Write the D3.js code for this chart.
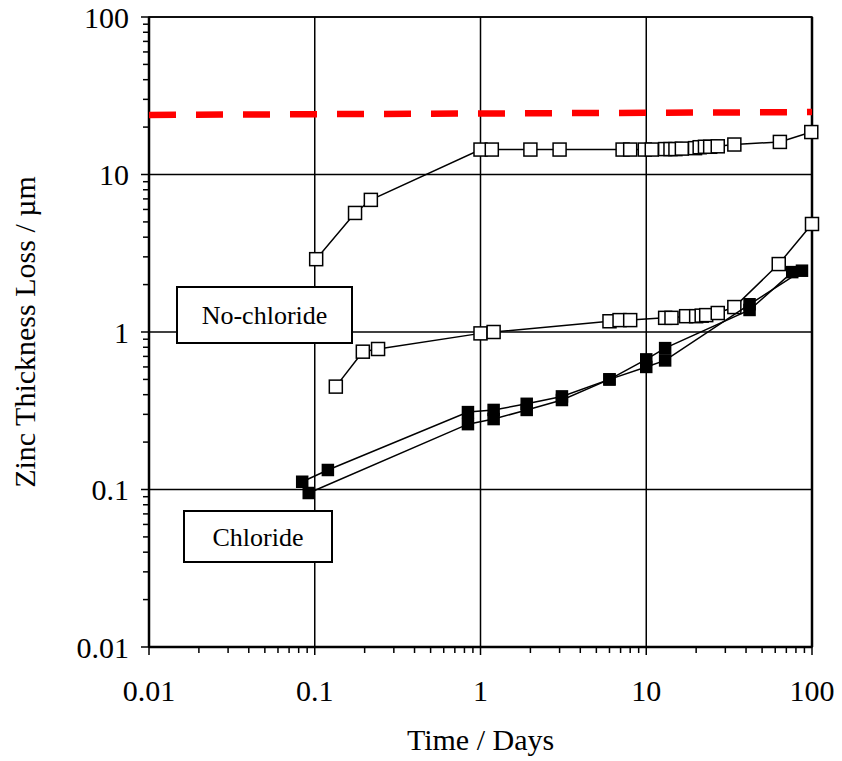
<!DOCTYPE html>
<html>
<head>
<meta charset="utf-8">
<script src="https://cdn.jsdelivr.net/npm/d3@7"></script>
<style>
  body { margin: 0; background: #fff; }
  text { font-family: "Liberation Serif", "Times New Roman", serif; fill: #000; }
</style>
</head>
<body>
<div id="chart"></div>
<script>
// data (days, µm)
var upperDays = [0.102, 0.175, 0.218, 1.0, 1.17, 2.0, 3.0, 7.2, 8.0, 9.8, 10.8, 13, 14, 15, 16.4, 19.7, 21, 22.6, 24.3, 27, 34, 64, 99];
var upperLoss = [2.9, 5.7, 6.9, 14.4, 14.4, 14.4, 14.4, 14.4, 14.4, 14.4, 14.4, 14.5, 14.5, 14.5, 14.6, 14.7, 14.9, 15.0, 15.0, 15.1, 15.5, 16.1, 18.6];

var noClDays = [0.134, 0.195, 0.241, 1.0, 1.2, 6.0, 6.9, 8.0, 13, 14.2, 17.4, 20, 21.6, 23, 27, 34, 63, 100];
var noClLoss = [0.45, 0.75, 0.78, 0.98, 1.0, 1.17, 1.19, 1.19, 1.23, 1.23, 1.26, 1.26, 1.27, 1.28, 1.32, 1.44, 2.7, 4.85];

var clADays = [0.084, 0.12, 0.84, 1.2, 1.9, 3.1, 6.0, 10, 13, 42, 76];
var clALoss = [0.112, 0.133, 0.31, 0.32, 0.35, 0.39, 0.5, 0.67, 0.79, 1.38, 2.4];
var clBDays = [0.092, 0.84, 1.2, 1.9, 3.1, 6.0, 10, 13, 42, 87];
var clBLoss = [0.095, 0.26, 0.28, 0.32, 0.37, 0.5, 0.6, 0.66, 1.5, 2.45];

var limitDays = [0.01, 100];
var limitLoss = [23.9, 24.9];

var xTicks = [0.01, 0.1, 1, 10, 100];
var yTicks = [0.01, 0.1, 1, 10, 100];
var xTickLabels = ['0.01', '0.1', '1', '10', '100'];
var yTickLabels = ['0.01', '0.1', '1', '10', '100'];

var W = 842, H = 761;
var margin = { left: 149, top: 17, right: 30, bottom: 114 };
var pw = W - margin.left - margin.right, ph = H - margin.top - margin.bottom;

var svg = d3.select('#chart').append('svg')
  .attr('width', W).attr('height', H);
var g = svg.append('g').attr('transform', 'translate(' + margin.left + ',' + margin.top + ')');

var x = d3.scaleLog().domain([0.01, 100]).range([0, pw]);
var y = d3.scaleLog().domain([0.01, 100]).range([ph, 0]);

function zip(a, b) { return a.map(function(v, i) { return [v, b[i]]; }); }

// minor ticks (outside)
var minors = [];
for (var dec = 0.01; dec < 100; dec *= 10) {
  for (var k = 2; k <= 9; k++) minors.push(dec * k);
}
g.selectAll('.xminor').data(minors).enter().append('line')
  .attr('x1', function(d) { return x(d); }).attr('x2', function(d) { return x(d); })
  .attr('y1', ph).attr('y2', ph + 6)
  .attr('stroke', '#000').attr('stroke-width', 1.5);
g.selectAll('.yminor').data(minors).enter().append('line')
  .attr('y1', function(d) { return y(d); }).attr('y2', function(d) { return y(d); })
  .attr('x1', 0).attr('x2', -6)
  .attr('stroke', '#000').attr('stroke-width', 1.5);

// major ticks + grid
g.selectAll('.xgrid').data(xTicks).enter().append('line')
  .attr('x1', function(d) { return x(d); }).attr('x2', function(d) { return x(d); })
  .attr('y1', 0).attr('y2', ph + 8)
  .attr('stroke', '#000').attr('stroke-width', 1.5);
g.selectAll('.ygrid').data(yTicks).enter().append('line')
  .attr('y1', function(d) { return y(d); }).attr('y2', function(d) { return y(d); })
  .attr('x1', -8).attr('x2', pw)
  .attr('stroke', '#000').attr('stroke-width', 1.5);

// frame
g.append('rect').attr('width', pw).attr('height', ph)
  .attr('fill', 'none').attr('stroke', '#000').attr('stroke-width', 1.5);
g.append('line').attr('x1', 0).attr('x2', 0).attr('y1', 0).attr('y2', ph)
  .attr('stroke', '#000').attr('stroke-width', 2.5);
g.append('line').attr('x1', 0).attr('x2', pw).attr('y1', ph).attr('y2', ph)
  .attr('stroke', '#000').attr('stroke-width', 2.5);
g.append('line').attr('x1', pw).attr('x2', pw).attr('y1', 0).attr('y2', ph)
  .attr('stroke', '#000').attr('stroke-width', 2.5);

// tick labels
g.selectAll('.xlab').data(xTicks).enter().append('text')
  .attr('x', function(d) { return x(d); }).attr('y', ph + 54)
  .attr('text-anchor', 'middle').style('font-size', '30px')
  .text(function(d, i) { return xTickLabels[i]; });
g.selectAll('.ylab').data(yTicks).enter().append('text')
  .attr('x', -20).attr('y', function(d) { return y(d); }).attr('dy', '0.35em')
  .attr('text-anchor', 'end').style('font-size', '30px')
  .text(function(d, i) { return yTickLabels[i]; });

// axis titles
svg.append('text').attr('x', margin.left + pw / 2).attr('y', 750)
  .attr('text-anchor', 'middle').style('font-size', '30px').text('Time / Days');
svg.append('text').attr('transform', 'translate(35,' + (margin.top + ph / 2) + ') rotate(-90)')
  .attr('text-anchor', 'middle').style('font-size', '30px').text('Zinc Thickness Loss / µm');

// limit line
var line = d3.line().x(function(d) { return x(d[0]); }).y(function(d) { return y(d[1]); });
g.append('path').datum(zip(limitDays, limitLoss)).attr('d', line)
  .attr('fill', 'none').attr('stroke', '#ff0000').attr('stroke-width', 6.5)
  .attr('stroke-dasharray', '27,20');

// series
function drawSeries(days, loss, filled) {
  var pts = zip(days, loss);
  g.append('path').datum(pts).attr('d', line)
    .attr('fill', 'none').attr('stroke', '#000').attr('stroke-width', 1.5);
  var s = filled ? 11 : 13;
  g.selectAll(null).data(pts).enter().append('rect')
    .attr('x', function(d) { return x(d[0]) - s / 2; })
    .attr('y', function(d) { return y(d[1]) - s / 2; })
    .attr('width', s).attr('height', s)
    .attr('fill', filled ? '#000' : '#fff')
    .attr('stroke', '#000').attr('stroke-width', 1.5);
}
drawSeries(upperDays, upperLoss, false);
drawSeries(noClDays, noClLoss, false);
drawSeries(clADays, clALoss, true);
drawSeries(clBDays, clBLoss, true);

// label boxes
function labelBox(bx, by, bw, bh, txt) {
  svg.append('rect').attr('x', bx).attr('y', by).attr('width', bw).attr('height', bh)
    .attr('fill', '#fff').attr('stroke', '#000').attr('stroke-width', 2);
  svg.append('text').attr('x', bx + bw / 2).attr('y', by + bh / 2).attr('dy', '0.35em')
    .attr('text-anchor', 'middle').style('font-size', '26px').text(txt);
}
labelBox(177, 287, 175, 56, 'No-chloride');
labelBox(184, 511, 148, 51, 'Chloride');
</script>
</body>
</html>
